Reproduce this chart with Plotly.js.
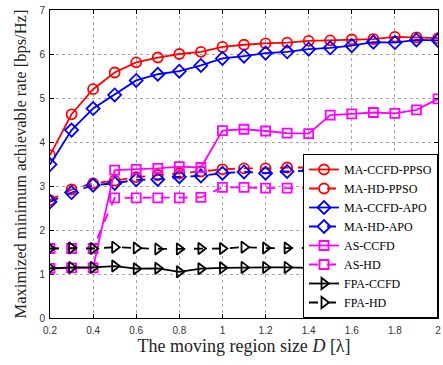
<!DOCTYPE html>
<html><head><meta charset="utf-8">
<script src="https://cdn.plot.ly/plotly-3.0.1.min.js"></script>
<style>html,body{margin:0;padding:0;background:#fff}#chart{width:443px;height:365px}</style>
</head><body><div id="chart"></div>
<script>
const D = [0.2,0.3,0.4,0.5,0.6,0.7,0.8,0.9,1.0,1.1,1.2,1.3,1.4,1.5,1.6,1.7,1.8,1.9,2.0];
const maCcfdPpso = [3.70,4.63,5.20,5.58,5.81,5.92,6.00,6.05,6.16,6.21,6.24,6.26,6.30,6.31,6.33,6.34,6.39,6.38,6.36];
const maHdPpso   = [2.68,2.92,3.06,3.12,3.20,3.25,3.29,3.33,3.38,3.40,3.40,3.42,3.42,3.44,3.45,3.45,3.48,3.45,3.46];
const maCcfdApo  = [3.49,4.27,4.76,5.07,5.40,5.54,5.61,5.74,5.90,5.95,6.02,6.05,6.11,6.14,6.19,6.27,6.26,6.32,6.31];
const maHdApo    = [2.64,2.85,3.02,3.06,3.14,3.15,3.21,3.23,3.29,3.32,3.29,3.33,3.35,3.36,3.36,3.36,3.36,3.38,3.38];
const asCcfd     = [1.13,1.14,1.14,3.36,3.38,3.40,3.44,3.42,4.26,4.29,4.25,4.20,4.19,4.61,4.64,4.67,4.65,4.73,4.98];
const asHd       = [1.58,1.58,1.58,2.73,2.73,2.73,2.73,2.74,2.97,2.97,2.95,2.95,2.95,3.08,3.08,3.08,3.07,3.12,3.15];
const fpaCcfd    = [1.13,1.15,1.15,1.18,1.12,1.13,1.05,1.12,1.14,1.15,1.15,1.15,1.14,1.13,1.14,1.13,1.14,1.13,1.15];
const fpaHd      = [1.58,1.59,1.58,1.61,1.59,1.57,1.57,1.58,1.58,1.61,1.59,1.59,1.59,1.60,1.59,1.60,1.59,1.60,1.61];
const names = ['MA-CCFD-PPSO','MA-HD-PPSO','MA-CCFD-APO','MA-HD-APO','AS-CCFD','AS-HD','FPA-CCFD','FPA-HD'];

const series = [maCcfdPpso, maHdPpso, maCcfdApo, maHdApo, asCcfd, asHd, fpaCcfd, fpaHd];
const colors = ['#ff0000','#ff0000','#0000ff','#0000ff','#ff00ff','#ff00ff','#000000','#000000'];
const symbols = ['circle-open','circle-open','diamond-open','diamond-open','square-open','square-open','triangle-right-open','triangle-right-open'];
const dashes = ['solid','dash','solid','dash','solid','dash','solid','dash'];
const sizes = [10,10,10,10,9,9,10,10];

const traces = series.map((y,i)=>({
  x: D, y: y, name: names[i], type:'scatter', mode:'lines+markers',
  line:{color:colors[i], width:1.8, dash:dashes[i]},
  marker:{symbol:symbols[i], size:sizes[i], color:colors[i], line:{color:colors[i], width:1.8}}
}));

const axisCommon = {
  showline:true, mirror:'ticks', linecolor:'#000', linewidth:1,
  ticks:'inside', ticklen:4, tickcolor:'#000',
  showgrid:true, gridcolor:'#a8a8a8', griddash:'dot', gridwidth:1,
  zeroline:false,
  tickfont:{family:'Liberation Sans, Arial, sans-serif', size:10, color:'#333'}
};

const layout = {
  width:443, height:365,
  margin:{l:50, r:5, t:10, b:47},
  paper_bgcolor:'#fff', plot_bgcolor:'#fff',
  showlegend:true,
  legend:{x:1, xanchor:'right', y:0, yanchor:'bottom',
    bgcolor:'#fff', bordercolor:'#000', borderwidth:1,
    font:{family:'Liberation Serif, Times New Roman, serif', size:12, color:'#000'},
    tracegroupgap:0},
  xaxis: Object.assign({}, axisCommon, {
    range:[0.2,2], tick0:0.2, dtick:0.2, ticklabelstandoff:3,
    title:{text:'The moving region size <i>D</i> [λ]', standoff:2,
      font:{family:'Liberation Serif, Times New Roman, serif', size:18, color:'#222'}}
  }),
  yaxis: Object.assign({}, axisCommon, {
    range:[0,7], dtick:1, ticklabelstandoff:2,
    title:{text:'Maximized minimum achievable rate [bps/Hz]', standoff:8,
      font:{family:'Liberation Serif, Times New Roman, serif', size:16.5, color:'#222'}}
  })
};

Plotly.newPlot('chart', traces, layout, {displayModeBar:false, staticPlot:true});
</script>
</body></html>
